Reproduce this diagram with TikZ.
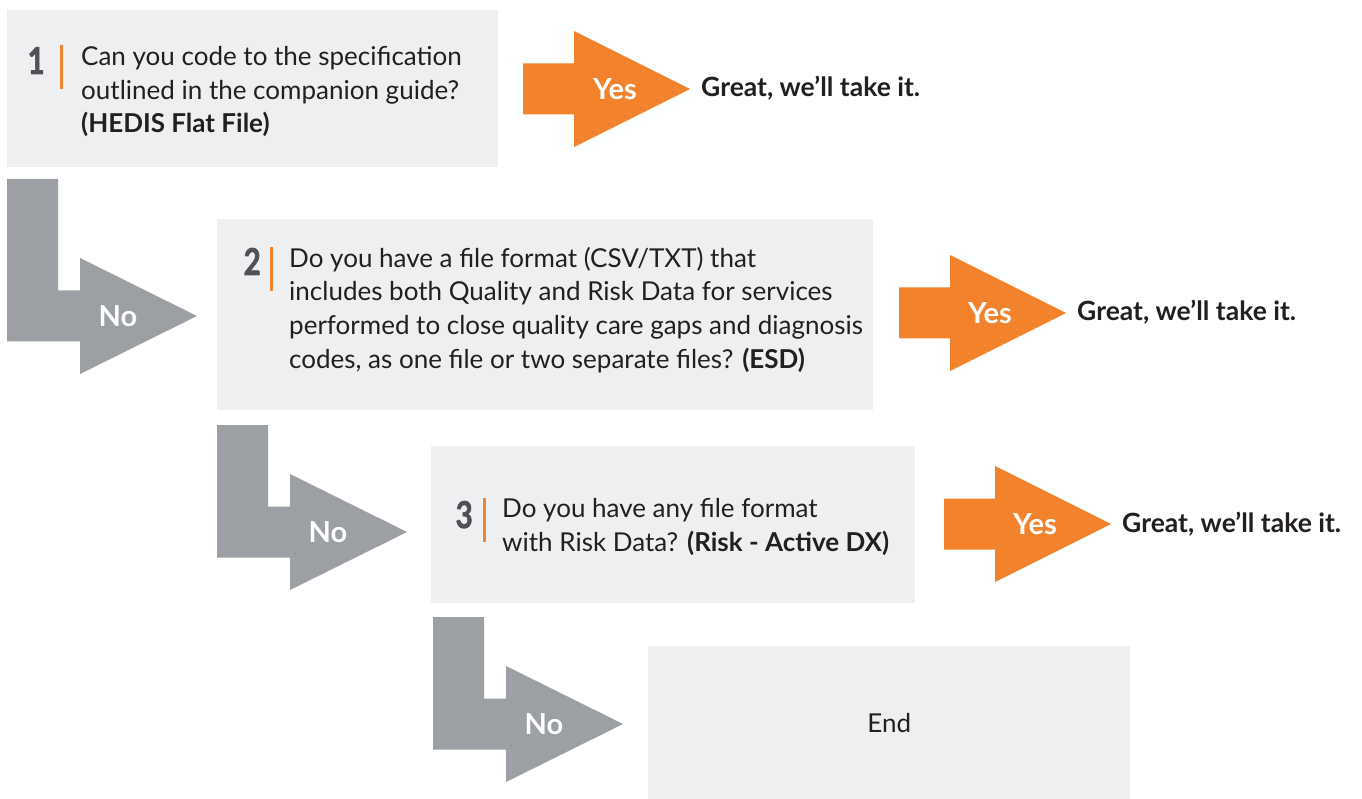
\documentclass[tikz,border=0pt]{standalone}
\usepackage{fontspec}
\usepackage{graphicx}
\setmainfont{Lato}
\definecolor{orng}{HTML}{F3822C}
\definecolor{gry}{HTML}{9C9FA3}
\definecolor{boxfill}{HTML}{EEEFF0}
\definecolor{txt}{HTML}{231F20}
\definecolor{numc}{HTML}{505154}
\newcommand{\stepnum}[1]{\scalebox{0.8}[1]{\addfontfeature{FakeBold=2}#1}}
\tikzset{
  qbox/.style={fill=boxfill, draw=none, anchor=north west, inner sep=0pt},
  qtext/.style={anchor=base west, inner sep=0pt, align=left, text=txt, font=\fontsize{26}{33.5}\selectfont},
  numtext/.style={anchor=base east, inner sep=0pt, text=numc, font=\bfseries\fontsize{37}{37}\selectfont},
  bartick/.style={draw=orng, line width=3pt},
  armtext/.style={text=white, inner sep=0pt, font=\bfseries\fontsize{29}{29}\selectfont},
  greattext/.style={anchor=base west, inner sep=0pt, text=txt, font=\bfseries\fontsize{26.5}{26.5}\selectfont},
  pics/yesarrow/.style={code={
    \fill[orng] (0,-25.5) -- (51,-25.5) -- (51,-58) -- (167,0) -- (51,58) -- (51,25.5) -- (0,25.5) -- cycle;
  }},
  pics/noarrow/.style={code={
    \fill[gry] (0,-#1) -- (51,-#1) -- (51,-25.5) -- (73,-25.5) -- (73,-58) -- (190,0) -- (73,58) -- (73,25.5) -- (0,25.5) -- cycle;
  }},
}
\begin{document}
\begin{tikzpicture}[x=1pt,y=-1pt]
\useasboundingbox (0,0) rectangle (1362,799);
% boxes
\node[qbox, minimum width=491, minimum height=157] (b1) at (7,10) {};
\node[qbox, minimum width=656, minimum height=191] (b2) at (217,219) {};
\node[qbox, minimum width=484, minimum height=157] (b3) at (431,446) {};
\node[qbox, minimum width=482, minimum height=154] (b4) at (648,646) {};
% box 1
\node[numtext] (n1) at (45,74) {\stepnum{1}};
\draw[bartick] (61.5,45) -- (61.5,89);
\node[qtext] (t1) at (81,133) {Can you code to the specification\\outlined in the companion guide?\\\textbf{(HEDIS Flat File)}};
% box 2
\node[numtext] (n2) at (261,275) {\stepnum{2}};
\draw[bartick] (271.5,247) -- (271.5,291);
\node[qtext] (t2) at (289,368) {Do you have a file format (CSV/TXT) that\\includes both Quality and Risk Data for services\\performed to close quality care gaps and diagnosis\\codes, as one file or two separate files? \textbf{(ESD)}};
% box 3
\node[numtext] (n3) at (473,528) {\stepnum{3}};
\draw[bartick] (484.5,498) -- (484.5,542);
\node[qtext] (t3) at (502,551) {Do you have any file format\\with Risk Data? \textbf{(Risk - Active DX)}};
% end
\node[text=txt, font=\fontsize{26}{26}\selectfont] (endt) at (b4.center) {End};
% yes arrows
\pic at (523,89) {yesarrow};
\node[armtext] (y1) at (615,89) {Yes};
\node[greattext] (g1) at (701,97) {Great, we’ll take it.};
\pic at (899,313) {yesarrow};
\node[armtext] (y2) at (990,313) {Yes};
\node[greattext] (g2) at (1077,321) {Great, we’ll take it.};
\pic at (944,524) {yesarrow};
\node[armtext] (y3) at (1035,524) {Yes};
\node[greattext] (g3) at (1122,532) {Great, we’ll take it.};
% no arrows
\pic at (7,316) {noarrow=137};
\node[armtext] (no1) at (118,316) {No};
\pic at (217,532) {noarrow=107};
\node[armtext] (no2) at (328,532) {No};
\pic at (433,724) {noarrow=107};
\node[armtext] (no3) at (544,724) {No};
\end{tikzpicture}
\end{document}
